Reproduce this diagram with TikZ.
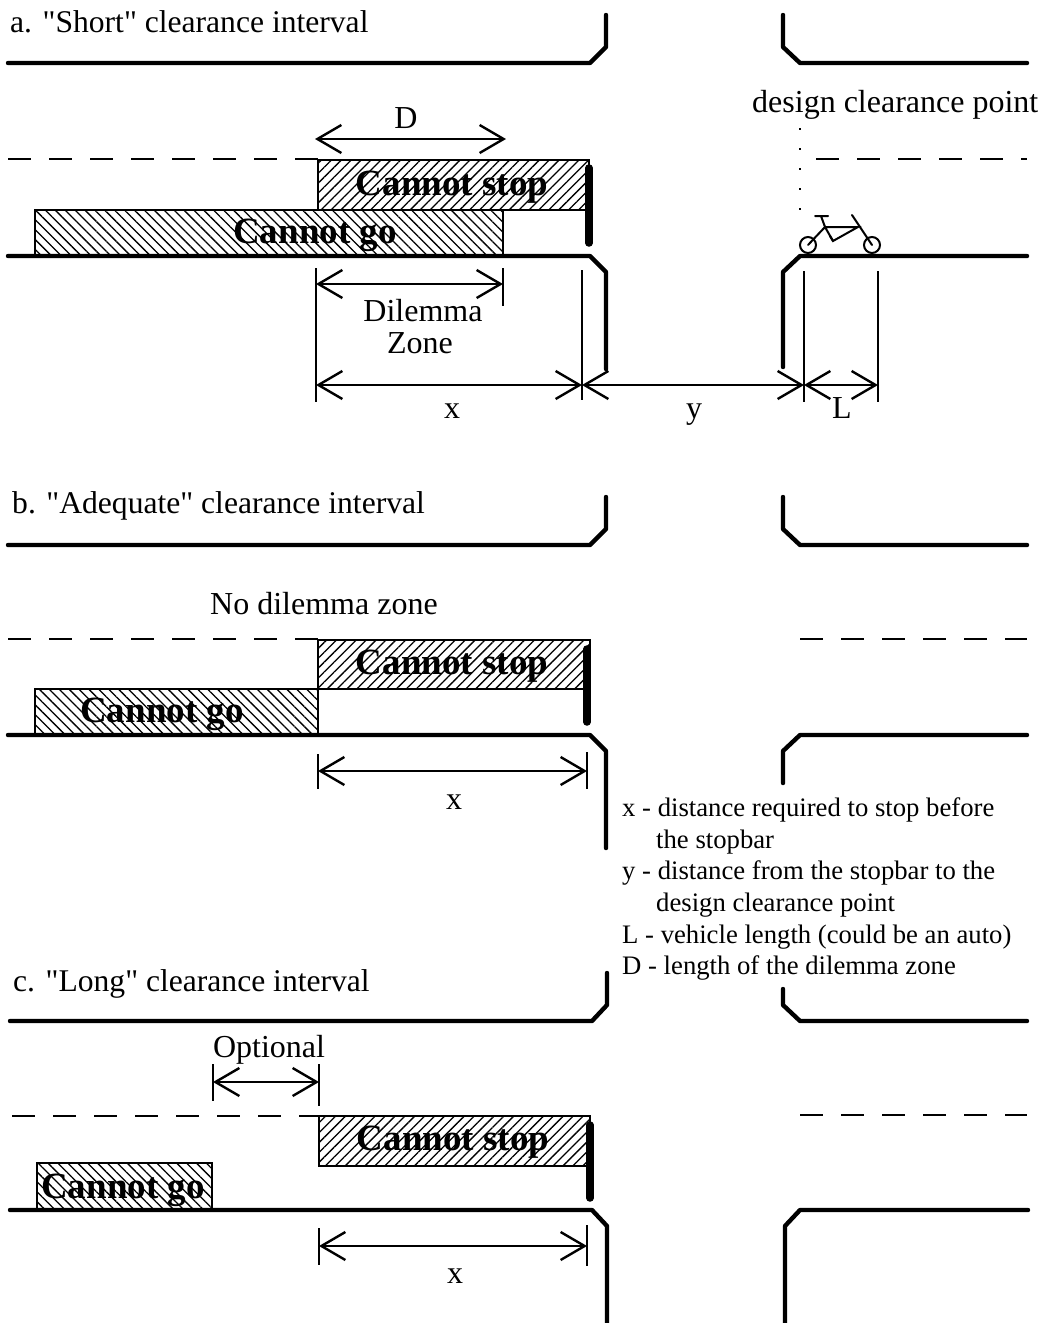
\documentclass[tikz,border=0pt]{standalone}
\usepackage{fontspec}
\setmainfont{Liberation Serif}[Ligatures=TeXOff]
\usetikzlibrary{arrows.meta,patterns.meta}
\tikzset{
  curb/.style={line width=4.4pt,line join=round,line cap=round},
  stopbar/.style={line width=7.5pt,line cap=round},
  lane/.style={line width=1.2pt,dash pattern=on 23pt off 18pt},
  extline/.style={line width=1.8pt},
  dim/.style={line width=2.4pt,{Straight Barb[length=24pt,width=28pt,line width=2.4pt]}-{Straight Barb[length=24pt,width=28pt,line width=2.4pt]}},
  cstop/.style={draw,line width=1.8pt,anchor=north west,inner sep=0pt,outer sep=0pt,pattern={Lines[angle=45,distance=7pt,line width=1.3pt]}},
  cgo/.style={draw,line width=1.8pt,anchor=north west,inner sep=0pt,outer sep=0pt,pattern={Lines[angle=-45,distance=7pt,line width=1.3pt]}},
  txt/.style={anchor=base west,inner sep=0pt,font=\fontsize{32}{34}\selectfont},
  titletxt/.style={anchor=base west,inner sep=0pt,font=\fontsize{31.6}{34}\selectfont},
  keytxt/.style={anchor=base west,inner sep=0pt,font=\fontsize{26.7}{30}\selectfont},
  ctr/.style={anchor=base,inner sep=0pt,font=\fontsize{32}{34}\selectfont},
  heavy/.style={anchor=base,inner sep=0pt,font=\fontsize{37}{38}\selectfont\bfseries},
  bike/.style={line width=2pt,line cap=round},
}
\begin{document}
\begin{tikzpicture}[x=1pt,y=-1pt]
\useasboundingbox (0,0) rectangle (1045,1323);

% ---------- a ----------
\node[titletxt] (ta) at (10,32) {a. "Short" clearance interval};
\draw[curb] (8,63) -- (590,63) -- (606,47) -- (606,15);
\draw[curb] (783,15) -- (783,47) -- (800,63) -- (1027,63);
\node[txt] (dcp) at (752,112) {design clearance point};
\draw[lane] (8,159) -- (318,159);
\draw[lane] (816,159) -- (1027,159);
\node[cstop,minimum width=271pt,minimum height=50pt] (as) at (318,160) {};
\node[cgo,minimum width=468pt,minimum height=46pt] (ag) at (35,210) {};
\node[heavy] (aslab) at (452,195) {Cannot stop};
\node[heavy] (aglab) at (315,243) {Cannot go};
\draw[stopbar] (589,168) -- (589,243);
\draw[curb] (8,256) -- (590,256) -- (606,272) -- (606,369);
\draw[curb] (783,367) -- (783,272) -- (800,256) -- (1027,256);
% dotted guide and bicycle
\coordinate (dot1) at (800,128);
\coordinate (dot2) at (800,212);
\draw[line width=2.4pt,dash pattern=on 2.4pt off 17.6pt] (dot1) -- (dot2);
\draw[bike] (808,245) circle (8pt) (872,245) circle (8pt);
\draw[bike] (808,245) -- (825,227) -- (833,241) -- (858,227) -- (825,227);
\draw[bike] (815,216) -- (828,216) (821,216) -- (825,227) (830,236) -- (833,241) (852,215) -- (872,245);
% dimensions
\coordinate (d1) at (315,139); \coordinate (d2) at (506,139);
\draw[dim] (d1) -- (d2);
\node[ctr] (dl) at (406,128) {D};
\coordinate (z1) at (316,284); \coordinate (z2) at (503,284);
\draw[dim] (z1) -- (z2);
\coordinate (e1t) at (316,268); \coordinate (e1b) at (316,402);
\coordinate (e2t) at (503,268); \coordinate (e2b) at (503,306);
\coordinate (e3t) at (582,270); \coordinate (e3b) at (582,400);
\coordinate (e4t) at (804,271); \coordinate (e4b) at (804,402);
\coordinate (e5t) at (878,271); \coordinate (e5b) at (878,402);
\draw[extline] (e1t) -- (e1b) (e2t) -- (e2b) (e3t) -- (e3b) (e4t) -- (e4b) (e5t) -- (e5b);
\node[ctr] (dil) at (423,321) {Dilemma};
\node[ctr] (zon) at (420,353) {Zone};
\coordinate (xa) at (316,385); \coordinate (xb) at (582,385); \coordinate (xc) at (804,385); \coordinate (xd) at (878,385);
\draw[dim] (xa) -- (xb);
\draw[dim] (xb) -- (xc);
\draw[dim] (xc) -- (xd);
\node[ctr] (xl) at (452,418) {x};
\node[ctr] (yl) at (694,418) {y};
\node[ctr] (ll) at (842,418) {L};

% ---------- b ----------
\node[titletxt] (tb) at (12,513) {b. "Adequate" clearance interval};
\draw[curb] (8,545) -- (590,545) -- (606,529) -- (606,497);
\draw[curb] (783,497) -- (783,529) -- (800,545) -- (1027,545);
\node[txt] (nd) at (210,614) {No dilemma zone};
\draw[lane] (8,639) -- (318,639);
\draw[lane] (800,639) -- (1027,639);
\node[cstop,minimum width=272pt,minimum height=49pt] (bs) at (318,640) {};
\node[cgo,minimum width=283pt,minimum height=46pt] (bg) at (35,689) {};
\node[heavy] (bslab) at (452,674) {Cannot stop};
\node[heavy] (bglab) at (162,722) {Cannot go};
\draw[stopbar] (587,649) -- (587,722);
\draw[curb] (8,735) -- (590,735) -- (606,751) -- (606,848);
\draw[curb] (783,783) -- (783,751) -- (800,735) -- (1027,735);
\coordinate (bx1) at (318,771); \coordinate (bx2) at (587,771);
\draw[dim] (bx1) -- (bx2);
\coordinate (b1t) at (318,754); \coordinate (b1b) at (318,789);
\coordinate (b2t) at (587,752); \coordinate (b2b) at (587,789);
\draw[extline] (b1t) -- (b1b) (b2t) -- (b2b);
\node[ctr] (bxl) at (454,809) {x};

% ---------- legend ----------
\node[keytxt] (k1) at (622,816) {x - distance required to stop before};
\node[keytxt] (k2) at (656,848) {the stopbar};
\node[keytxt] (k3) at (622,879) {y - distance from the stopbar to the};
\node[keytxt] (k4) at (656,911) {design clearance point};
\node[keytxt] (k5) at (622,943) {L - vehicle length (could be an auto)};
\node[keytxt] (k6) at (622,974) {D - length of the dilemma zone};

% ---------- c ----------
\node[titletxt] (tc) at (13,991) {c. "Long" clearance interval};
\draw[curb] (10,1021) -- (592,1021) -- (607,1005) -- (607,973);
\draw[curb] (783,989) -- (783,1005) -- (800,1021) -- (1027,1021);
\node[ctr] (opt) at (269,1057) {Optional};
\coordinate (o1) at (213,1082); \coordinate (o2) at (319,1082);
\draw[dim] (o1) -- (o2);
\coordinate (o1t) at (213,1064); \coordinate (o1b) at (213,1101);
\coordinate (o2t) at (319,1064); \coordinate (o2b) at (319,1106);
\draw[extline] (o1t) -- (o1b) (o2t) -- (o2b);
\draw[lane] (12,1116) -- (320,1116);
\draw[lane] (800,1115) -- (1027,1115);
\node[cstop,minimum width=271pt,minimum height=50pt] (cs) at (319,1116) {};
\node[cgo,minimum width=175pt,minimum height=47pt] (cg) at (37,1163) {};
\node[heavy] (cslab) at (453,1150) {Cannot stop};
\node[heavy] (cglab) at (123,1198) {Cannot go};
\draw[stopbar] (590,1125) -- (590,1198);
\draw[curb] (10,1210) -- (592,1210) -- (607,1226) -- (607,1325);
\draw[curb] (785,1325) -- (785,1226) -- (800,1210) -- (1028,1210);
\coordinate (cx1) at (319,1246); \coordinate (cx2) at (587,1246);
\draw[dim] (cx1) -- (cx2);
\coordinate (c1t) at (319,1228); \coordinate (c1b) at (319,1265);
\coordinate (c2t) at (587,1225); \coordinate (c2b) at (587,1266);
\draw[extline] (c1t) -- (c1b) (c2t) -- (c2b);
\node[ctr] (cxl) at (455,1283) {x};
\end{tikzpicture}
\end{document}
